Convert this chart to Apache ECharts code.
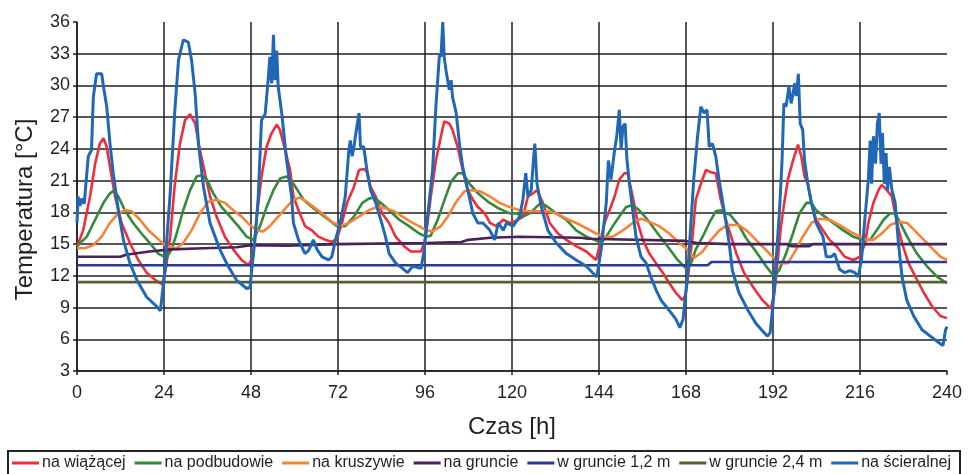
<!DOCTYPE html>
<html>
<head>
<meta charset="utf-8">
<script src="https://cdn.jsdelivr.net/npm/echarts@6/dist/echarts.min.js"></script>
<style>
  html, body { margin: 0; padding: 0; background: #fff; }
  #container { width: 969px; height: 474px; }
</style>
</head>
<body>
<div id="container"></div>
<script>
// hours [h], temperature [°C]
var names = ['na wiążącej', 'na podbudowie', 'na kruszywie', 'na gruncie', 'w gruncie 1,2 m', 'w gruncie 2,4 m', 'na ścieralnej'];
var colors = ['#ee2e3b', '#34893c', '#f5843a', '#4a2158', '#2b3990', '#5b5b36', '#2068b6'];

var wiazacej = [[0,14.8],[0.4,15.1],[1.7,16.3],[3.6,19.5],[5,22.6],[6.3,24.5],[7.3,25],[8.2,24.2],[9.1,22.3],[10.5,19.5],[12.3,17],[14.6,15.1],[16.9,13.5],[19.2,12.3],[22,11.5],[23.6,11.2],[24.6,12.9],[25.7,15.7],[27,20.7],[28.4,24.5],[29.8,26.7],[31.2,27.3],[32.6,26.4],[33.9,23.9],[35.3,21.7],[36.7,19.5],[38.5,17.6],[40.8,15.7],[43.1,14.5],[45.4,13.5],[47.3,13],[48.5,13.8],[49.6,17.6],[50.9,21.4],[52.3,24.2],[53.7,25.5],[55.1,26.3],[56,25.8],[57.4,23.9],[58.8,22],[59.7,19.5],[61.1,18.2],[62.9,16.7],[64.8,16.3],[66.6,15.7],[68.5,15.4],[70.3,15.2],[71.7,15.5],[73.1,17],[74.5,18.9],[76.4,20.4],[77.8,22],[79.1,22.1],[80.1,21.8],[81,20.4],[82.4,19.5],[84.2,17.9],[86.1,17],[87.9,15.7],[90.2,14.8],[92.1,14.3],[94.9,14.3],[95.8,15.1],[96.7,17],[97.6,19.5],[99,22.9],[100.4,25.2],[101.3,26.6],[102.7,26.4],[103.6,25.8],[105,24.2],[106.4,22],[107.8,20.1],[109.2,19.2],[110.6,18.5],[112.5,17.9],[113.9,17],[115.7,16.7],[117.6,17.3],[119.4,17],[121.2,17.2],[123,17.6],[124.4,19.5],[125.8,19.8],[126.9,20.1],[128.5,18.9],[130.4,17],[132.7,16],[135,15.4],[137.7,14.8],[140.5,14.3],[143.2,13.5],[144.3,15.1],[145.5,17],[146.9,18.2],[148.3,19.5],[149.6,21.1],[151,21.7],[151.9,21.7],[153.3,19.5],[154.7,17],[156.1,15.4],[157.9,14.1],[159.7,13.2],[161.6,12.3],[163.4,11.3],[165.2,10.4],[167,9.7],[167.9,10.2],[168.8,12.6],[169.8,15.7],[170.7,19.2],[172.1,20.7],[173.5,22],[174.8,21.8],[176.2,21.7],[177.6,19.2],[179,17.3],[180.3,15.9],[181.9,14.1],[184,12.3],[186.4,11],[189.1,9.7],[191.4,8.9],[192.4,10.4],[193.3,13.5],[194.2,16.7],[195.1,18.9],[196.1,21.1],[197.5,22.9],[198.9,24.4],[199.8,23.3],[200.7,21.4],[201.6,20.7],[202.6,18.9],[203.9,17.3],[205.8,16.3],[207.6,15.4],[209.5,14.8],[211.8,13.8],[214.1,13.5],[216,13.8],[217.4,15.1],[218.3,17],[219.7,18.9],[221.1,20.1],[222,20.6],[223.4,20.1],[224.8,19.5],[226.2,17],[227.6,15.1],[229.4,13.2],[231.3,11.9],[233.6,10.4],[235.9,9.1],[238.2,8.2],[240,8]];

var podbudowie = [[0,14.8],[2.7,15.7],[5,17.3],[7.3,18.9],[9.1,19.8],[10,20],[11.4,19.5],[13.2,18.2],[15.5,17],[17.8,16],[20.1,15.1],[22.4,14.1],[24.7,13.7],[26.1,14.5],[27.5,16],[29.3,18.2],[31.2,20.1],[33,21.4],[34.4,21.5],[35.8,21.1],[37.6,19.8],[39.9,18.5],[42.2,17.6],[44.5,16.7],[46.8,15.7],[48.6,15.4],[50.5,16.7],[52.3,18.5],[54.2,20.1],[56,21.2],[57.8,21.4],[59.7,20.7],[62.5,19.2],[64.8,18.5],[67.1,17.9],[69.4,17.3],[71.7,16.7],[74,16.7],[76.4,17.6],[78.7,18.9],[80.5,19.3],[81.9,19.4],[83.8,18.9],[86.1,18.2],[88.9,17.3],[91.6,16.7],[94.4,16],[96.3,15.7],[97.6,15.8],[99.5,17.3],[101.4,19.2],[103.2,20.9],[105.1,21.7],[106.4,21.7],[108.3,20.7],[110.6,19.8],[113.4,19],[116.2,18.4],[119.4,17.9],[121.2,17.9],[123,17.6],[124.9,17.9],[126.7,18.5],[128.1,18.9],[129.9,18.5],[132.2,17.9],[135,17.3],[137.7,16.3],[140.5,15.7],[142.8,15.4],[144.6,15.1],[146,15.7],[147.8,16.7],[149.6,17.6],[151.5,18.5],[153.3,18.7],[155.1,18.2],[157.4,17.3],[160.2,16],[162.9,14.8],[165.7,13.5],[168,12.7],[169.4,13.2],[170.7,14.5],[172.6,15.7],[174.4,17],[176.2,18.1],[177.6,18.2],[179,17.9],[180.1,17.8],[182.7,16.7],[184.5,15.6],[187.3,14.3],[190.1,12.9],[192.4,11.9],[193.8,12.6],[195.6,14.1],[197.5,16],[199.3,17.9],[201.2,18.9],[202.6,18.9],[203.9,18.2],[206.3,17.6],[208.6,17],[211.4,16.3],[214.1,15.7],[216.9,15.4],[218.8,15.4],[220.6,16.3],[222.5,17.3],[224.3,17.9],[225.7,17.9],[227.1,17],[229,15.7],[231.7,14.1],[234.5,12.9],[237.3,11.9],[240,11.3]];

var kruszywie = [[0,14.6],[2.2,14.6],[4.5,14.9],[6.8,15.7],[9.1,17],[11.4,17.9],[13.2,18.2],[15.1,18.1],[17.4,17.3],[19.7,16.3],[22,15.6],[24.3,14.9],[25.7,14.7],[27.5,14.6],[29.3,15.1],[31.6,16.3],[33.9,17.9],[36.2,19],[38.5,19.2],[40.8,18.9],[43.1,18.2],[45.4,17.6],[47.7,16.8],[49.6,16.3],[51.4,16.2],[53.2,16.7],[55.5,17.6],[57.8,18.5],[59.7,19.2],[61.5,19.4],[63.4,19],[65.7,18.4],[68,17.8],[70.3,17.1],[72.6,16.7],[75,17],[77.8,17.6],[80.5,18.2],[82.8,18.5],[85.1,18.4],[87.5,18.1],[89.8,17.6],[92.1,17.1],[94.4,16.7],[96.3,16.3],[98.1,16.2],[100.4,16.7],[102.3,17.6],[104.6,19],[106.9,20],[108.8,20.1],[111.1,20],[113.9,19.5],[116.6,18.9],[119.4,18.5],[122.1,18.2],[124.9,18.1],[127.6,18.1],[129.9,18.1],[132.2,17.9],[135,17.4],[137.7,17],[140.5,16.5],[143.2,16],[145.5,15.7],[147.8,15.7],[150.6,16.3],[153.3,17],[155.6,17.4],[157.9,17.1],[160.6,16.7],[163.4,16],[166.1,15.1],[168,14.6],[170.3,13.7],[172.6,14.3],[174.9,15.4],[177.2,16.3],[179.4,16.8],[182.6,16.8],[185,16.2],[187.3,15.4],[189.6,14.6],[191.9,13.8],[193.8,13.2],[196.1,13.2],[198.4,14.5],[200.2,15.7],[202.6,17],[204.9,17.4],[207.6,17.3],[210.4,16.8],[213.2,16.2],[216,15.7],[217.8,15.4],[219.7,15.4],[222,16],[224.3,16.8],[226.6,17.1],[229,17],[231.3,16.2],[233.6,15.4],[235.9,14.6],[238.2,13.8],[240,13.5]];

var gruncie = [[0,13.8],[12,13.8],[13.5,14],[20,14.3],[26,14.5],[35,14.6],[44,14.7],[48,14.9],[58,14.85],[72,15],[96,15.1],[106,15.2],[108,15.4],[114,15.6],[122,15.7],[139,15.6],[141,15.5],[168,15.3],[171,15.1],[180,15],[196,15],[197,14.8],[202,14.8],[203,15],[240,15]];

var gruncie12 = [[0,13],[174,13],[175,13.3],[240,13.3]];

var gruncie24 = [[0,11.4],[240,11.4]];

var scieralnej = [[0,17],[0.3,19.5],[0.8,18.6],[1.3,19.3],[2,18.8],[3.1,23.3],[4,23.9],[4.5,28.9],[5.4,31.1],[6.8,31.1],[7.3,29.9],[8.2,28],[9.1,24.5],[10,21.7],[11.4,18.2],[12.8,15.4],[14.6,13.2],[16.5,11.6],[19.2,10],[22,9.1],[23,8.7],[24.3,12.6],[24.7,15.1],[25.7,19.8],[27,27.7],[28,32.4],[29.3,34.3],[30.7,34.1],[31.6,32.4],[32.6,29.2],[33.5,24.5],[34.9,20.4],[36.7,17],[39.4,14.5],[41.7,12.9],[44,11.6],[46.8,10.8],[47.7,10.9],[48.5,13.5],[49.1,15.4],[50,19.5],[50.9,26.7],[51.9,27.3],[52.8,30.8],[53.2,32.7],[53.7,30.2],[54.2,34.8],[54.6,30.5],[55.1,33.3],[55.5,29.9],[56.5,27.3],[57.8,23],[59.2,19.5],[59.7,17],[61.1,15.4],[62.9,14.1],[63.9,14.4],[65.2,15.4],[66.2,14.5],[67.6,13.8],[69.4,13.5],[70.3,13.8],[71.3,15.4],[72.6,17],[74,19.5],[75,23.9],[75.4,24.8],[75.9,23.3],[76.4,24.2],[76.8,25.2],[77.8,27.4],[78.2,24.2],[79.1,24.2],[80.1,21.7],[81,20.1],[82.4,18.9],[83.8,17.3],[85.1,15.7],[86.1,14.1],[87.9,13.2],[89.8,12.7],[91.2,12.3],[92.6,12.9],[94.9,12.7],[95.8,14.5],[97.2,19.2],[98.1,22],[99,28],[100,33],[100.4,32.7],[100.9,36],[101.3,32.7],[101.8,31.4],[102.7,29.6],[103.2,30.5],[103.6,28.9],[104.6,27.4],[105.5,24.5],[106.4,22.3],[107.8,20.1],[109.2,17.9],[110.6,17],[112,17],[113.9,16.3],[115.2,15.4],[116.2,17],[117.6,16.3],[118.5,17],[120.3,16.7],[122.1,17.6],[123,19.2],[123.8,21.7],[124.4,19.5],[125.3,20.1],[126,23.3],[126.3,24.5],[126.9,20.7],[128.1,18.5],[129.9,16.3],[132.2,15.1],[135,14.1],[137.7,13.5],[140.5,12.9],[142.8,12.1],[143.4,11.9],[144.6,14.5],[146,18.9],[146.6,22.9],[147.3,21.1],[148.3,23.9],[148.9,25.2],[149.6,27.7],[150.1,23.9],[150.6,26.1],[151.2,26.4],[151.7,23],[152.4,20.7],[153.3,18.2],[154.2,15.7],[155.6,13.8],[157,13.2],[158.3,11.9],[159.7,10.7],[161.1,9.7],[162.5,9.1],[163.9,8.5],[165.2,7.9],[166.3,7.1],[167.2,7.9],[167.7,9.7],[168.4,11.9],[169.3,16.7],[170.2,21.4],[171.2,25.2],[172.1,28],[173,27.4],[173.8,27.7],[174.4,24.2],[175.3,24.5],[176.2,23.3],[177.1,21.1],[178.5,18.2],[179.9,15.1],[180.8,12.5],[182.6,10.4],[185,8.8],[187.3,7.5],[189.6,6.6],[190.5,6.3],[191.2,6.6],[191.6,7.9],[192.1,9.7],[192.8,13.2],[193.8,18.2],[194.5,22.9],[195,28.3],[195.6,28],[196.4,29.9],[197,28.3],[197.5,29.2],[198,30.2],[198.4,29],[199,31.1],[199.5,26.4],[200.2,25.8],[200.7,22.9],[201.6,20.7],[202.6,18.9],[203.9,17],[204.9,16.3],[205.8,15.7],[206.7,13.8],[208.1,13.8],[209,14.1],[210.4,12.6],[211.8,12.3],[213.2,12.5],[214.6,12.3],[215.5,11.9],[216.4,13.5],[217.4,17.6],[218.3,21.1],[218.8,24.8],[219.2,20.7],[219.7,25.2],[220.3,22.6],[220.8,26.4],[221.3,27.4],[221.8,22.6],[222.2,25.5],[222.7,20.7],[223.2,23.6],[223.6,20.1],[224.1,22.3],[224.8,20.1],[225.7,18.9],[226.6,15.1],[227.6,11.9],[228.9,9.7],[230.8,8.2],[233.1,6.9],[235.4,6.3],[237.7,5.7],[238.9,5.4],[239.6,6.9],[240,7.2]];

var seriesData = [wiazacej, podbudowie, kruszywie, gruncie, gruncie12, gruncie24, scieralnej];

var font = '"Liberation Sans", Arial, sans-serif';
var ink = '#231f20';

var myChart = echarts.init(document.getElementById('container'));
myChart.setOption({
    animation: false,
    grid: { left: 77, right: 22, top: 22, bottom: 103 },
    legend: {
        left: 12,
        top: 455,
        icon: 'rect',
        itemWidth: 27,
        itemHeight: 3,
        itemGap: 9,
        padding: 0,
        data: names,
        textStyle: { fontSize: 16, color: ink, fontFamily: font, padding: [0, 0, 0, -2] }
    },
    graphic: [{
        type: 'rect',
        shape: { x: 8, y: 451, width: 952, height: 30 },
        style: { fill: 'none', stroke: '#222', lineWidth: 2 }
    }],
    xAxis: {
        type: 'value',
        min: 0,
        max: 240,
        interval: 24,
        name: 'Czas [h]',
        nameLocation: 'middle',
        nameGap: 44,
        nameTextStyle: { fontSize: 24, color: ink, fontFamily: font },
        axisLine: { lineStyle: { color: ink, width: 1.5 } },
        axisTick: { length: 4, lineStyle: { color: ink, width: 1.5 } },
        axisLabel: { fontSize: 18, color: ink, fontFamily: font, margin: 13 },
        splitLine: { show: true, showMaxLine: false, lineStyle: { color: ink, width: 1.5 } }
    },
    yAxis: {
        type: 'value',
        min: 3,
        max: 36,
        interval: 3,
        name: 'Temperatura [°C]',
        nameLocation: 'middle',
        nameGap: 40,
        nameTextStyle: { fontSize: 24, color: ink, fontFamily: font, padding: [0, 26, 0, 0] },
        axisLine: { show: true, lineStyle: { color: ink, width: 1.5 } },
        axisTick: { show: true, length: 4, lineStyle: { color: ink, width: 1.5 } },
        axisLabel: { fontSize: 18, color: ink, fontFamily: font, margin: 7 },
        splitLine: { show: true, showMaxLine: false, lineStyle: { color: ink, width: 1.5 } }
    },
    series: names.map(function (name, i) {
        return {
            name: name,
            type: 'line',
            data: seriesData[i],
            showSymbol: false,
            symbol: 'none',
            color: colors[i],
            lineStyle: { width: i === 6 ? 3 : 2.6, color: colors[i] },
            z: 2 + i
        };
    })
});
</script>
</body>
</html>
